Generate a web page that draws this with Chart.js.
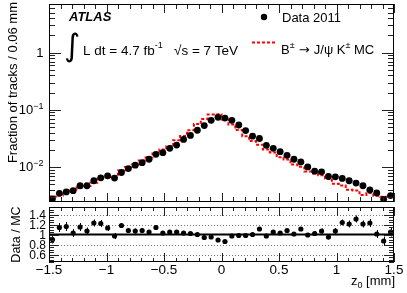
<!DOCTYPE html>
<html>
<head>
<meta charset="utf-8">
<script src="https://cdn.jsdelivr.net/npm/chart.js@4.4.0/dist/chart.umd.min.js"></script>
<style>
  html, body { margin: 0; padding: 0; background: #fff; }
  #wrap { position: relative; width: 407px; height: 293px; }
  canvas { position: absolute; left: 0; top: 0; }
</style>
</head>
<body>
<div id="wrap">
  <canvas id="mainChart" width="407" height="293"></canvas>
  <canvas id="ratioChart" width="407" height="293"></canvas>
</div>
<script>
// z0 bin centres [mm], bins of 0.06 mm
const binCenters = [-1.47,-1.41,-1.35,-1.29,-1.23,-1.17,-1.11,-1.05,-0.99,-0.93,-0.87,-0.81,-0.75,-0.69,-0.63,-0.57,-0.51,
  -0.45,-0.39,-0.33,-0.27,-0.21,-0.15,-0.09,-0.03,0.03,0.09,0.15,0.21,0.27,0.33,0.39,0.45,0.51,
  0.57,0.63,0.69,0.75,0.81,0.87,0.93,0.99,1.05,1.11,1.17,1.23,1.29,1.35,1.41,1.47];
const binWidth = 0.06;

// Data 2011
const dataFrac = [0.00277,0.00346,0.00366,0.00385,0.0047,0.0047,0.00574,0.00647,0.00701,0.0064,0.0080,0.00938,0.01074,0.0119,0.01365,0.01667,0.0178,
  0.0212,0.0242,0.0303,0.0356,0.0439,0.053,0.0654,0.0738,0.0718,0.0654,0.0543,0.0434,0.0346,0.0315,0.0239,0.0212,0.0185,
  0.0160,0.01365,0.01225,0.01004,0.00846,0.00822,0.00682,0.00673,0.0063,0.00574,0.00524,0.0047,0.00396,0.00352,0.00272,0.00316];

// B -> J/psi K MC
const mcFrac = [0.00308,0.00304,0.00316,0.00374,0.00409,0.00439,0.00467,0.0053,0.0062,0.0066,0.00678,0.00869,0.01004,0.0110,0.0130,0.01462,0.01728,
  0.0202,0.0230,0.0294,0.0349,0.0439,0.0564,0.0688,0.0829,0.0835,0.0674,0.0554,0.0443,0.0346,0.0284,0.0246,0.0202,0.0180,
  0.0148,0.0135,0.0110,0.0101,0.0083,0.0077,0.00718,0.00629,0.00508,0.00474,0.0040,0.00388,0.00322,0.00349,0.00313,0.00301];

// Data / MC and its error
const ratio = [0.90,1.14,1.16,1.03,1.15,1.07,1.23,1.22,1.13,0.97,1.18,1.08,1.07,1.08,1.05,1.14,1.03,1.05,1.05,1.03,1.02,1.00,0.94,0.95,0.89,
  0.86,0.97,0.98,0.98,1.00,1.11,0.97,1.05,1.03,1.08,1.01,1.11,0.99,1.02,1.07,0.95,1.07,1.24,1.21,1.31,1.21,1.23,1.01,0.87,1.05];
const ratioErr = [0.08,0.09,0.09,0.08,0.08,0.07,0.07,0.07,0.06,0.06,0.05,0.05,0.05,0.04,0.04,0.04,0.03,0.03,0.03,0.03,0.02,0.02,0.02,0.02,0.02,
  0.02,0.02,0.02,0.02,0.02,0.03,0.03,0.03,0.03,0.03,0.04,0.04,0.04,0.05,0.05,0.05,0.06,0.06,0.07,0.07,0.07,0.08,0.08,0.09,0.09];

// tick labels
const xTickLabels = ["\u22121.5", "\u22121", "\u22120.5", "0", "0.5", "1", "1.5"];
const xTickValues = [-1.5, -1, -0.5, 0, 0.5, 1, 1.5];
const ratioTickValues = [0.6, 0.8, 1, 1.2, 1.4];
const ratioTickLabels = ["0.6", "0.8", "1", "1.2", "1.4"];

const FAM = '"Liberation Sans", Arial, Helvetica, sans-serif';
const f = (size, style, fam) => (style ? style + ' ' : '') + size + 'px ' + (fam || FAM);

function rich(ctx, x, y, parts, align) {
  let total = 0;
  parts.forEach(p => { ctx.font = p.f; p.w = ctx.measureText(p.t).width; total += p.w; });
  let cx = align === 'right' ? x - total : (align === 'center' ? x - total / 2 : x);
  ctx.textAlign = 'left';
  ctx.textBaseline = 'alphabetic';
  parts.forEach(p => { ctx.font = p.f; ctx.fillText(p.t, cx, y + (p.dy || 0)); cx += p.w; });
  return cx;
}

// x ticks every 0.1, major every 0.5
const xTicks = [];
for (let i = -15; i <= 15; i++) xTicks.push([i / 10, i % 5 === 0]);

// frame + inward ticks, ROOT style
function drawFrame(chart, o) {
  const { ctx, chartArea: a } = chart;
  const x = chart.scales.x, y = chart.scales.y;
  ctx.save();
  ctx.strokeStyle = '#222';
  ctx.lineWidth = 1;
  ctx.beginPath();
  xTicks.forEach(([v, major]) => {
    const px = Math.round(x.getPixelForValue(v)) + 0.5;
    const len = major ? o.xMajor : o.xMinor;
    ctx.moveTo(px, a.bottom); ctx.lineTo(px, a.bottom - len);
    ctx.moveTo(px, a.top); ctx.lineTo(px, a.top + len);
  });
  o.yTicks.forEach(([v, major]) => {
    if (v < y.min || v > y.max) return;
    const py = Math.round(y.getPixelForValue(v)) + 0.5;
    const len = major ? o.yMajor : o.yMinor;
    ctx.moveTo(a.left, py); ctx.lineTo(a.left + len, py);
    ctx.moveTo(a.right, py); ctx.lineTo(a.right - len, py);
  });
  ctx.stroke();
  ctx.strokeStyle = '#000';
  ctx.strokeRect(a.left + 0.5, a.top + 0.5, a.right - a.left - 1, a.bottom - a.top - 1);
  ctx.restore();
}

// log ticks for the upper panel
const logTicks = [];
[0.001, 0.01, 0.1, 1].forEach(d => {
  logTicks.push([d, true]);
  for (let k = 2; k <= 9; k++) logTicks.push([d * k, false]);
});

const mainPlugin = {
  id: 'mainDeco',
  beforeDatasetsDraw(chart) {
    const { ctx, chartArea: a } = chart;
    const x = chart.scales.x, y = chart.scales.y;
    ctx.save();
    ctx.beginPath(); ctx.rect(a.left, a.top, a.right - a.left, a.bottom - a.top); ctx.clip();
    ctx.strokeStyle = 'rgba(110,110,210,0.7)';
    ctx.lineWidth = 1.5;
    ctx.beginPath();
    binCenters.forEach((c, i) => {
      const py = y.getPixelForValue(dataFrac[i]);
      ctx.moveTo(x.getPixelForValue(c - binWidth / 2), py);
      ctx.lineTo(x.getPixelForValue(c + binWidth / 2), py);
    });
    ctx.stroke();
    ctx.restore();
  },
  afterDraw(chart) {
    const { ctx } = chart;
    const y = chart.scales.y;
    drawFrame(chart, { xMajor: 9, xMinor: 5, yMajor: 12, yMinor: 6, yTicks: logTicks });
    ctx.save();
    ctx.fillStyle = '#000';
    // y tick labels
    const yl = [[1, [{ t: '1', f: f(13) }]],
                [0.1, [{ t: '10', f: f(13) }, { t: '\u22121', f: f(9), dy: -5 }]],
                [0.01, [{ t: '10', f: f(13) }, { t: '\u22122', f: f(9), dy: -5 }]]];
    yl.forEach(([v, parts]) => rich(ctx, 43.5, y.getPixelForValue(v) + 4.5, parts, 'right'));
    // y title
    ctx.save();
    ctx.translate(16.5, 2);
    ctx.rotate(-Math.PI / 2);
    ctx.font = f(13);
    ctx.textAlign = 'right';
    ctx.textBaseline = 'alphabetic';
    ctx.fillText('Fraction of tracks / 0.06 mm', 0, 0);
    ctx.restore();
    // ATLAS label
    ctx.font = f(13, 'italic bold');
    ctx.textAlign = 'left';
    ctx.fillText('ATLAS', 69, 20.5);
    // luminosity
    ctx.font = f(31, '', '"DejaVu Sans"');
    ctx.fillText('\u222B', 64, 56);
    rich(ctx, 83, 55, [{ t: 'L dt = 4.7 fb', f: f(13.5) }, { t: '-1', f: f(9), dy: -7 }], 'left');
    rich(ctx, 174, 55, [{ t: '\u221As = 7 TeV', f: f(13.5) }], 'left');
    // legend
    ctx.beginPath(); ctx.arc(264, 17, 3.2, 0, Math.PI * 2); ctx.fill();
    ctx.font = f(13);
    ctx.fillText('Data 2011', 282, 21.5);
    ctx.strokeStyle = '#f00'; ctx.lineWidth = 2; ctx.setLineDash([3, 2]);
    ctx.beginPath(); ctx.moveTo(252, 42.5); ctx.lineTo(276, 42.5); ctx.stroke();
    ctx.setLineDash([]);
    rich(ctx, 281, 54, [
      { t: 'B', f: f(13) }, { t: '\u00B1', f: f(9), dy: -6 },
      { t: ' \u2192 ', f: f(13, '', '"DejaVu Sans"') },
      { t: 'J/\u03C8 K', f: f(13) }, { t: '\u00B1', f: f(9), dy: -6 },
      { t: ' MC', f: f(13) }], 'left');
    ctx.restore();
  }
};

// histogram edges for the MC step line
const mcSteps = binCenters.map((c, i) => ({ x: c - binWidth / 2, y: mcFrac[i] }));
mcSteps.push({ x: binCenters[binCenters.length - 1] + binWidth / 2, y: mcFrac[mcFrac.length - 1] });

new Chart(document.getElementById('mainChart'), {
  type: 'scatter',
  data: {
    datasets: [{
      label: 'Data 2011',
      data: binCenters.map((c, i) => ({ x: c, y: dataFrac[i] })),
      backgroundColor: '#000',
      borderWidth: 0,
      pointRadius: 3.4
    }, {
      label: 'MC',
      data: mcSteps,
      showLine: true,
      stepped: 'after',
      borderColor: '#ff0000',
      borderWidth: 2,
      borderDash: [3, 2],
      pointRadius: 0
    }]
  },
  options: {
    responsive: false,
    animation: false,
    events: [],
    layout: { padding: { left: 49, top: 2, right: 13, bottom: 91 } },
    plugins: { legend: { display: false }, tooltip: { enabled: false } },
    scales: {
      x: { type: 'linear', display: false, min: -1.5, max: 1.5 },
      y: { type: 'logarithmic', display: false, min: 0.00244, max: 7.1 }
    }
  },
  plugins: [mainPlugin]
});

// ratio panel ticks: minor every 0.05, major every 0.2
const ratioTicks = [];
for (let i = 9; i <= 31; i++) ratioTicks.push([i / 20, false]);
ratioTickValues.forEach(v => ratioTicks.push([v, true]));

const ratioPlugin = {
  id: 'ratioDeco',
  beforeDatasetsDraw(chart) {
    const { ctx, chartArea: a } = chart;
    const x = chart.scales.x, y = chart.scales.y;
    ctx.save();
    ctx.beginPath(); ctx.rect(a.left, a.top, a.right - a.left, a.bottom - a.top); ctx.clip();
    // dotted reference lines
    ctx.strokeStyle = '#777'; ctx.lineWidth = 1; ctx.setLineDash([1, 2]);
    ctx.beginPath();
    [0.6, 0.8, 1.2, 1.4].forEach(v => {
      const py = Math.round(y.getPixelForValue(v)) + 0.5;
      ctx.moveTo(a.left, py); ctx.lineTo(a.right, py);
    });
    ctx.stroke();
    ctx.setLineDash([]);
    // unity line
    ctx.strokeStyle = '#000'; ctx.lineWidth = 2;
    ctx.beginPath();
    const p1 = y.getPixelForValue(1);
    ctx.moveTo(a.left, p1); ctx.lineTo(a.right, p1); ctx.stroke();
    // error bars
    ctx.lineWidth = 1;
    ctx.beginPath();
    binCenters.forEach((c, i) => {
      const px = Math.round(x.getPixelForValue(c)) + 0.5;
      ctx.moveTo(px, y.getPixelForValue(ratio[i] - ratioErr[i]));
      ctx.lineTo(px, y.getPixelForValue(ratio[i] + ratioErr[i]));
    });
    ctx.stroke();
    ctx.restore();
  },
  afterDraw(chart) {
    const { ctx, chartArea: a } = chart;
    const x = chart.scales.x, y = chart.scales.y;
    drawFrame(chart, { xMajor: 9, xMinor: 4, yMajor: 10, yMinor: 5, yTicks: ratioTicks });
    ctx.save();
    ctx.fillStyle = '#000';
    ctx.font = f(12);
    ctx.textAlign = 'right';
    ctx.textBaseline = 'alphabetic';
    ratioTickValues.forEach((v, i) => ctx.fillText(ratioTickLabels[i], 46, y.getPixelForValue(v) + 4.2));
    ctx.font = f(13.5);
    ctx.textAlign = 'center';
    xTickValues.forEach((v, i) => ctx.fillText(xTickLabels[i], x.getPixelForValue(v), a.bottom + 12));
    // axis titles
    rich(ctx, 395, 285, [{ t: 'z', f: f(13) }, { t: '0', f: f(9), dy: 3 }, { t: ' [mm]', f: f(13) }], 'right');
    ctx.save();
    ctx.translate(19.5, (a.top + a.bottom) / 2);
    ctx.rotate(-Math.PI / 2);
    ctx.font = f(12.5);
    ctx.textAlign = 'center';
    ctx.fillText('Data / MC', 0, 0);
    ctx.restore();
    ctx.restore();
  }
};

new Chart(document.getElementById('ratioChart'), {
  type: 'scatter',
  data: {
    datasets: [{
      label: 'Data / MC',
      data: binCenters.map((c, i) => ({ x: c, y: ratio[i] })),
      backgroundColor: '#000',
      borderWidth: 0,
      pointRadius: 2.6
    }]
  },
  options: {
    responsive: false,
    animation: false,
    events: [],
    layout: { padding: { left: 49, top: 207, right: 13, bottom: 31 } },
    plugins: { legend: { display: false }, tooltip: { enabled: false } },
    scales: {
      x: { type: 'linear', display: false, min: -1.5, max: 1.5 },
      y: { type: 'linear', display: false, min: 0.45, max: 1.55 }
    }
  },
  plugins: [ratioPlugin]
});
</script>
</body>
</html>
